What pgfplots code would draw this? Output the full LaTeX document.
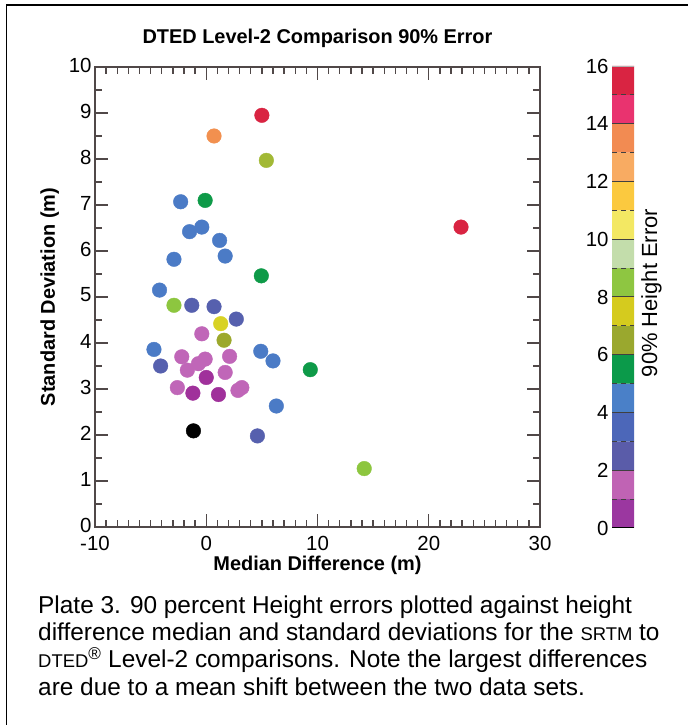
\documentclass[border=0pt]{standalone}
\usepackage{fontspec}
\setmainfont{Liberation Sans}
\usepackage{pgfplots}
\pgfplotsset{compat=1.18}
\definecolor{axisgray}{RGB}{80,72,72}
\definecolor{c0}{HTML}{9B37A0}
\definecolor{c1}{HTML}{C063B4}
\definecolor{c2}{HTML}{5A5CA9}
\definecolor{c3}{HTML}{4C67B9}
\definecolor{c4}{HTML}{4A80C8}
\definecolor{c5}{HTML}{0B9A4A}
\definecolor{c6}{HTML}{9AA82E}
\definecolor{c7}{HTML}{D5CB1E}
\definecolor{c8}{HTML}{8EC641}
\definecolor{c9}{HTML}{C3DDAB}
\definecolor{c10}{HTML}{F3E863}
\definecolor{c11}{HTML}{FBC93F}
\definecolor{c12}{HTML}{F8AB62}
\definecolor{c13}{HTML}{F28B52}
\definecolor{c14}{HTML}{E9336F}
\definecolor{c15}{HTML}{D92442}
\definecolor{pr}{HTML}{D92442}
\definecolor{po}{HTML}{F2904F}
\definecolor{pol}{HTML}{A2B935}
\definecolor{pb}{HTML}{4B7BC6}
\definecolor{ps}{HTML}{5660AE}
\definecolor{pg}{HTML}{0E9A48}
\definecolor{plg}{HTML}{8DC63F}
\definecolor{py}{HTML}{D8D225}
\definecolor{pov}{HTML}{9CA82C}
\definecolor{pp}{HTML}{C066B8}
\definecolor{pm}{HTML}{A0319B}
\newcommand\fsc[1]{{\fontsize{18.5}{18.5}\selectfont #1}}
\begin{document}
\begin{tikzpicture}
\useasboundingbox (0,0) rectangle (688bp,725bp);
\fill[white] (0,0) rectangle (688bp,725bp);
\begin{axis}[
  at={(95bp,198bp)}, anchor=south west,
  scale only axis, width=445bp, height=460bp,
  xmin=-10, xmax=30, ymin=0, ymax=10,
  xtick={-10,0,10,20,30}, minor x tick num=9,
  ytick={0,1,...,10}, minor y tick num=1,
  tick align=inside,
  major tick length=13bp, minor tick length=7bp,
  every tick/.style={line width=1.3bp, color=axisgray},
  axis line style={line width=1.8bp, color=axisgray},
  tick label style={font=\fontsize{20.5}{20.5}\selectfont},
  xticklabel style={yshift=-6bp},
  yticklabel style={yshift=2bp},
  /pgf/number format/assume math mode=true,
  title={DTED Level-2 Comparison 90\% Error},
  title style={font=\bfseries\fontsize{20}{20}\selectfont, at={([yshift=18bp]axis description cs:0.5,1)}, anchor=base},
  xlabel={Median Difference (m)},
  xlabel style={font=\bfseries\fontsize{20}{20}\selectfont, at={([yshift=-44bp]axis description cs:0.5,0)}, anchor=base},
  ylabel={Standard Deviation (m)},
  ylabel style={font=\bfseries\fontsize{20}{20}\selectfont, at={([xshift=-40bp]axis description cs:0,0.5)}, anchor=base},
]
\addplot[scatter, only marks, mark=*, mark size=7.3bp,
  scatter src=explicit symbolic,
  scatter/classes={
    r={mark=*, pr},
    o={mark=*, po},
    ol={mark=*, pol},
    b={mark=*, pb},
    s={mark=*, ps},
    g={mark=*, pg},
    lg={mark=*, plg},
    y={mark=*, py},
    ov={mark=*, pov},
    p={mark=*, pp},
    m={mark=*, pm},
    k={mark=*, black}}]
table[x=x, y=y, meta=c] {
x y c
5.0 8.95 r
0.7 8.5 o
5.4 7.97 ol
-2.3 7.07 b
-0.1 7.1 g
-1.5 6.42 b
-0.4 6.52 b
1.2 6.23 b
1.7 5.89 b
-2.9 5.82 b
4.95 5.46 g
-4.2 5.15 b
-2.9 4.82 lg
-1.3 4.82 s
0.7 4.79 s
1.3 4.42 y
2.7 4.52 s
-0.4 4.2 p
1.6 4.06 ov
-4.7 3.86 b
-4.1 3.50 s
-2.2 3.70 p
-0.7 3.55 p
-0.1 3.65 p
2.1 3.71 p
4.9 3.82 b
6.0 3.61 b
9.35 3.42 g
-1.7 3.41 p
0.0 3.25 m
1.7 3.36 p
-2.6 3.03 p
-1.2 2.91 m
1.1 2.88 m
2.85 2.97 p
3.2 3.03 p
6.3 2.63 b
-1.15 2.09 k
4.6 1.98 s
14.2 1.27 lg
22.9 6.52 r
};
\end{axis}
\begin{axis}[
  at={(612bp,197bp)}, anchor=south west,
  scale only axis, width=22bp, height=462bp,
  xmin=0, xmax=1, ymin=0, ymax=16,
  xtick=\empty, ytick={0,2,...,16},
  major tick length=0pt,
  axis line style={draw=none},
  tick label style={font=\fontsize{20.5}{20.5}\selectfont},
  /pgf/number format/assume math mode=true,
  ylabel={90\% Height Error},
  ylabel style={font=\fontsize{22}{22}\selectfont, at={([xshift=23bp, yshift=4bp]axis description cs:1,0.5)}, anchor=base},
]
\addplot[fill=c0, draw=none] coordinates {(0,0)(1,0)(1,1)(0,1)(0,0)};
\addplot[fill=c1, draw=none] coordinates {(0,1)(1,1)(1,2)(0,2)(0,1)};
\addplot[fill=c2, draw=none] coordinates {(0,2)(1,2)(1,3)(0,3)(0,2)};
\addplot[fill=c3, draw=none] coordinates {(0,3)(1,3)(1,4)(0,4)(0,3)};
\addplot[fill=c4, draw=none] coordinates {(0,4)(1,4)(1,5)(0,5)(0,4)};
\addplot[fill=c5, draw=none] coordinates {(0,5)(1,5)(1,6)(0,6)(0,5)};
\addplot[fill=c6, draw=none] coordinates {(0,6)(1,6)(1,7)(0,7)(0,6)};
\addplot[fill=c7, draw=none] coordinates {(0,7)(1,7)(1,8)(0,8)(0,7)};
\addplot[fill=c8, draw=none] coordinates {(0,8)(1,8)(1,9)(0,9)(0,8)};
\addplot[fill=c9, draw=none] coordinates {(0,9)(1,9)(1,10)(0,10)(0,9)};
\addplot[fill=c10, draw=none] coordinates {(0,10)(1,10)(1,11)(0,11)(0,10)};
\addplot[fill=c11, draw=none] coordinates {(0,11)(1,11)(1,12)(0,12)(0,11)};
\addplot[fill=c12, draw=none] coordinates {(0,12)(1,12)(1,13)(0,13)(0,12)};
\addplot[fill=c13, draw=none] coordinates {(0,13)(1,13)(1,14)(0,14)(0,13)};
\addplot[fill=c14, draw=none] coordinates {(0,14)(1,14)(1,15)(0,15)(0,14)};
\addplot[fill=c15, draw=none] coordinates {(0,15)(1,15)(1,16)(0,16)(0,15)};
\addplot[draw=black!75, line width=1bp] coordinates {(0,2)(1,2)};
\addplot[draw=black!75, line width=1bp] coordinates {(0,4)(1,4)};
\addplot[draw=black!75, line width=1bp] coordinates {(0,6)(1,6)};
\addplot[draw=black!75, line width=1bp] coordinates {(0,8)(1,8)};
\addplot[draw=black!75, line width=1bp] coordinates {(0,10)(1,10)};
\addplot[draw=black!75, line width=1bp] coordinates {(0,12)(1,12)};
\addplot[draw=black!75, line width=1bp] coordinates {(0,14)(1,14)};
\addplot[draw=black!75, line width=1bp, dash pattern=on 5bp off 4bp] coordinates {(0,1)(1,1)};
\addplot[draw=black!75, line width=1bp, dash pattern=on 5bp off 4bp] coordinates {(0,3)(1,3)};
\addplot[draw=black!75, line width=1bp, dash pattern=on 5bp off 4bp] coordinates {(0,5)(1,5)};
\addplot[draw=black!75, line width=1bp, dash pattern=on 5bp off 4bp] coordinates {(0,7)(1,7)};
\addplot[draw=black!75, line width=1bp, dash pattern=on 5bp off 4bp] coordinates {(0,9)(1,9)};
\addplot[draw=black!75, line width=1bp, dash pattern=on 5bp off 4bp] coordinates {(0,11)(1,11)};
\addplot[draw=black!75, line width=1bp, dash pattern=on 5bp off 4bp] coordinates {(0,13)(1,13)};
\addplot[draw=black!75, line width=1bp, dash pattern=on 5bp off 4bp] coordinates {(0,15)(1,15)};
\addplot[draw=gray!60, line width=0.6bp] coordinates {(0,16)(1,16)};
\addplot[draw=black, line width=2.5bp] coordinates {(0,0)(1,0)};
\end{axis}
\draw[line width=1.5bp] (6.5bp,0) -- (6.5bp,720bp) -- (688bp,720bp);
\begin{scope}[every node/.style={anchor=base west, inner sep=0pt, font=\fontsize{24.5}{24.5}\selectfont}]
\node at (38bp,111bp) {Plate 3. 90 percent Height errors plotted against height};
\node at (38bp,84bp) {difference median and standard deviations for the \fsc{SRTM} to};
\node at (38bp,57bp) {\fsc{DTED}\textsuperscript{\textregistered} Level-2 comparisons. Note the largest differences};
\node at (38bp,30bp) {are due to a mean shift between the two data sets.};
\end{scope}
\end{tikzpicture}
\end{document}
